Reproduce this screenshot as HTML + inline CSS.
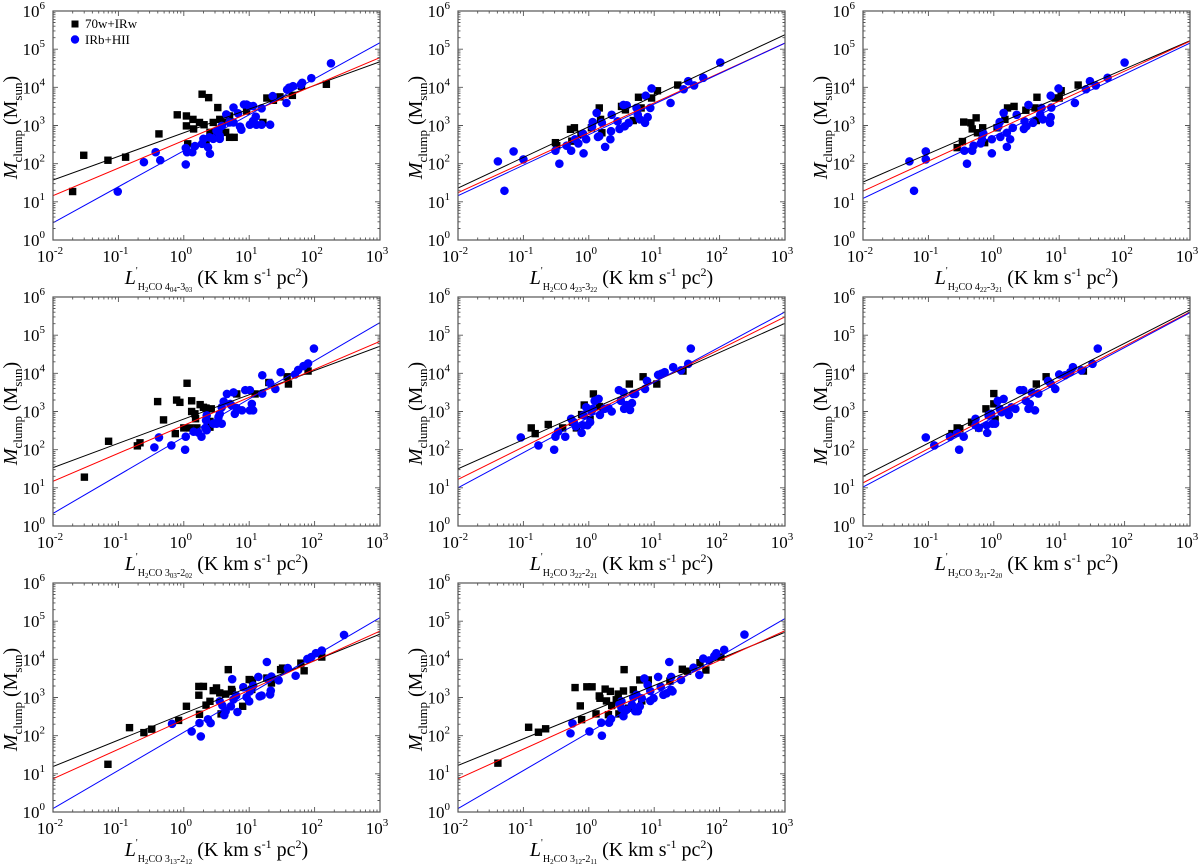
<!DOCTYPE html>
<html><head><meta charset="utf-8"><style>
html,body{margin:0;padding:0;background:#fff;}
svg{display:block;}
svg text, svg tspan{font-family:"Liberation Serif","Times New Roman",serif !important;}
</style></head><body>
<svg id="fig" width="1200" height="866" viewBox="0 0 1200 866" xmlns="http://www.w3.org/2000/svg" font-family="Liberation Serif, serif"></svg>
<script>
// ---- data (log10 values) ----
const p1BlackLogL=[-1.70,-1.53,-1.16,-0.89,-0.38,-0.10,0.04,0.04,0.06,0.14,0.15,0.24,0.28,0.31,0.34,0.38,0.40,0.45,0.52,0.45,0.55,0.59,0.64,0.70,0.70,0.77,0.96,1.27,1.21,1.37,1.47,1.66,1.80,2.18];
const p1BlackLogM=[1.27,2.22,2.09,2.17,2.78,3.28,2.99,3.25,2.52,3.16,2.91,3.08,3.82,3.02,2.52,3.73,2.82,2.69,3.47,3.08,3.16,3.08,2.82,3.25,2.69,2.69,3.38,3.72,3.08,3.66,3.75,3.79,4.03,4.08];
const p1BlueLogL=[-1.01,-0.61,-0.43,-0.36,0.03,0.03,0.05,0.13,0.17,0.28,0.30,0.37,0.40,0.39,0.45,0.50,0.53,0.55,0.55,0.58,0.65,0.70,0.76,0.76,0.83,0.86,0.88,0.92,0.96,1.00,1.01,1.06,1.06,1.10,1.11,1.19,1.19,1.32,1.36,1.57,1.58,1.61,1.67,1.79,1.81,1.95,2.25];
const p1BlueLogM=[1.27,2.04,2.30,2.09,1.98,2.41,2.30,2.30,2.46,2.52,2.65,2.43,2.26,2.69,2.65,2.86,2.86,2.65,2.73,2.99,3.29,3.08,3.47,3.08,3.32,2.97,2.89,3.55,3.55,3.51,3.02,3.12,3.51,3.23,3.02,3.02,3.45,3.02,3.77,3.59,3.94,3.99,4.03,4.07,4.12,4.24,4.63];

const p2BlackLogL=[-0.51,-0.49,-0.28,-0.22,-0.12,0.04,0.16,0.18,0.20,0.50,0.56,0.68,0.76,0.80,0.96,1.05,1.36,-0.26];
const p2BlackLogM=[2.55,2.47,2.90,2.94,2.77,2.94,3.46,3.16,2.81,3.50,3.41,3.13,3.74,3.46,3.72,3.91,4.06,2.59];
const p2BlueLogL=[-1.39,-1.29,-1.15,-1.00,-0.51,-0.45,-0.27,-0.34,-0.16,-0.08,-0.04,-0.09,-0.21,0.05,0.06,0.12,0.14,0.16,0.20,0.25,0.33,0.34,0.35,0.44,0.47,0.53,0.58,0.55,0.61,0.73,0.75,0.78,0.86,0.87,0.90,0.94,0.96,1.25,1.45,1.52,1.61,1.75,2.01];
const p2BlueLogM=[2.06,1.29,2.32,2.11,2.34,2.00,2.34,2.47,2.53,2.27,2.64,2.79,2.64,2.97,3.09,3.33,2.70,2.72,3.07,2.44,2.64,2.85,3.28,3.11,2.91,3.54,3.53,2.98,3.07,3.46,3.28,3.16,3.07,3.78,3.22,3.46,3.97,3.59,3.95,4.16,4.05,4.25,4.65];

const p3BlackLogL=[-0.56,-0.48,-0.46,-0.35,-0.27,-0.33,-0.25,-0.17,-0.14,0.05,0.17,0.21,0.31,0.49,0.63,0.66,0.65,0.94,1.00,1.03,1.29];
const p3BlackLogM=[2.42,2.58,3.09,3.07,3.20,2.91,2.81,2.94,2.55,2.94,3.16,3.46,3.50,3.40,3.46,3.74,3.13,3.72,3.72,3.91,4.06];
const p3BlueLogL=[-1.29,-1.22,-1.04,-1.04,-0.45,-0.41,-0.33,-0.31,-0.20,-0.03,-0.03,-0.16,0.07,0.09,0.15,0.10,0.20,0.20,0.25,0.29,0.35,0.47,0.46,0.53,0.60,0.73,0.71,0.75,0.86,0.87,0.87,0.88,0.99,1.24,1.41,1.47,1.56,1.74,2.00,-0.18,0.50];
const p3BlueLogM=[2.06,1.29,2.32,2.11,2.34,2.00,2.34,2.47,2.53,2.27,2.64,2.79,2.97,3.09,3.33,2.70,2.81,2.44,2.64,2.94,3.28,3.11,2.91,3.54,3.07,3.46,3.28,3.16,3.07,3.78,3.22,3.47,3.97,3.59,3.95,4.16,4.05,4.25,4.65,2.64,2.98];

const p4BlackLogL=[-1.52,-1.15,-0.71,-0.67,-0.40,-0.31,-0.13,-0.11,-0.06,0.00,0.05,0.09,0.12,0.12,0.17,0.18,0.20,0.25,0.30,0.34,0.42,0.40,0.40,0.81,1.09,1.30,1.58,1.60,1.90];
const p4BlackLogM=[1.28,2.22,2.10,2.18,3.26,2.78,2.42,3.30,3.24,2.57,3.74,2.57,3.28,3.00,2.94,2.81,2.57,3.18,3.11,3.09,3.07,2.59,2.74,3.46,3.46,3.76,3.91,3.72,4.06];
const p4BlueLogL=[-0.45,-0.38,-0.19,0.02,0.03,0.15,0.22,0.27,0.33,0.34,0.35,0.45,0.50,0.53,0.55,0.58,0.61,0.66,0.71,0.76,0.78,0.81,0.89,0.94,1.01,1.01,1.04,1.06,1.20,1.20,1.32,1.40,1.48,1.70,1.75,1.83,1.90,1.99,0.73,0.58,0.35];
const p4BlueLogM=[2.06,2.32,2.11,2.00,2.34,2.47,2.45,2.34,2.57,2.77,2.90,2.68,2.68,2.85,2.94,3.11,3.26,3.46,3.20,3.50,2.94,3.09,3.03,3.56,3.56,3.03,3.20,3.03,3.95,3.47,3.74,3.59,4.03,3.97,4.09,4.19,4.26,4.65,3.16,2.68,2.51];

const p5BlackLogL=[-0.88,-0.82,-0.62,-0.40,-0.25,-0.19,-0.11,-0.07,0.02,0.07,0.16,0.22,0.62,0.83,1.04,1.44];
const p5BlackLogM=[2.57,2.42,2.66,2.57,2.72,2.57,2.92,3.17,2.79,3.46,3.13,3.07,3.72,3.91,3.72,4.06];
const p5BlueLogL=[-1.04,-0.77,-0.53,-0.51,-0.47,-0.36,-0.27,-0.23,-0.20,-0.11,-0.09,-0.08,-0.04,-0.02,0.02,0.04,0.06,0.09,0.15,0.17,0.24,0.30,0.35,0.46,0.49,0.53,0.54,0.58,0.63,0.66,0.68,0.71,0.86,0.89,1.06,1.11,1.16,1.29,1.41,1.52,1.56];
const p5BlueLogM=[2.32,2.11,2.00,2.34,2.47,2.34,2.81,2.72,2.61,2.44,2.64,2.90,3.11,2.64,2.72,3.00,3.07,3.28,3.33,2.91,3.07,3.09,3.00,3.56,3.28,3.50,3.07,3.17,3.04,3.22,3.46,3.46,3.59,3.80,3.96,3.99,4.03,4.16,4.08,4.25,4.65];

const p6BlackLogL=[-0.64,-0.56,-0.52,-0.34,-0.23,-0.12,-0.08,0.00,0.00,0.02,0.65,0.80,1.37];
const p6BlackLogM=[2.42,2.57,2.55,2.72,2.57,3.07,2.91,3.47,3.20,2.79,3.72,3.91,4.06];
const p6BlueLogL=[-1.04,-0.91,-0.67,-0.56,-0.53,-0.46,-0.28,-0.28,-0.23,-0.11,-0.10,-0.08,-0.04,-0.02,0.02,0.06,0.09,0.12,0.15,0.20,0.23,0.27,0.33,0.40,0.45,0.49,0.53,0.55,0.58,0.63,0.68,0.83,0.87,0.94,1.00,1.09,1.17,1.21,1.34,1.51,1.59];
const p6BlueLogM=[2.32,2.11,2.34,2.44,2.00,2.34,2.81,2.64,2.57,2.64,2.44,2.90,2.94,2.68,2.68,3.28,3.07,2.98,3.33,3.03,2.91,3.11,3.07,3.56,3.56,3.28,3.07,3.20,3.50,3.03,3.47,3.80,3.73,3.59,3.97,3.95,4.03,4.16,4.08,4.25,4.65];

const p7BlackLogL=[-1.16,-0.83,-0.61,-0.49,-0.08,0.04,0.23,0.23,0.24,0.30,0.34,0.40,0.45,0.50,0.55,0.57,0.64,0.68,0.73,0.74,0.90,1.00,1.05,1.04,1.27,1.34,1.48,1.51,1.79,1.84,2.11];
const p7BlackLogM=[1.25,2.21,2.08,2.17,2.40,2.77,3.06,3.29,2.56,3.29,2.80,2.90,3.18,3.25,3.12,2.57,3.09,3.73,3.21,3.16,2.77,3.47,3.45,3.21,3.51,3.38,3.73,3.77,3.90,3.70,4.06];
const p7BlueLogL=[-0.18,0.12,0.24,0.26,0.37,0.41,0.55,0.59,0.62,0.64,0.72,0.74,0.76,0.80,0.82,0.91,0.96,1.00,1.01,1.06,1.14,1.16,1.19,1.27,1.29,1.32,1.33,1.34,1.45,1.59,1.71,1.89,1.95,2.02,2.11,2.45];
const p7BlueLogM=[2.31,2.11,2.33,1.98,2.43,2.33,2.90,2.79,2.54,2.64,2.77,3.48,2.95,3.05,2.62,3.27,3.01,2.90,3.16,3.31,3.54,3.03,3.05,3.93,3.48,3.08,3.18,3.55,3.45,3.77,3.57,4.01,4.06,4.16,4.23,4.64];

const p8BlackLogL=[-1.39,-0.92,-0.77,-0.66,-0.21,-0.13,-0.11,-0.03,0.05,0.11,0.16,0.17,0.25,0.27,0.33,0.35,0.30,0.42,0.45,0.46,0.53,0.54,0.61,0.68,0.78,0.81,0.91,1.24,1.43,1.51,1.70,1.79,2.02];
const p8BlackLogM=[1.28,2.22,2.09,2.18,3.26,2.78,2.42,3.28,3.28,2.57,3.04,2.98,3.22,2.91,3.16,2.79,2.55,2.94,3.09,2.57,3.17,3.73,2.72,3.20,3.46,2.91,3.46,3.43,3.74,3.69,3.91,3.72,4.06];
const p8BlueLogL=[-0.28,-0.25,0.01,0.19,0.20,0.31,0.34,0.47,0.50,0.53,0.55,0.58,0.66,0.68,0.73,0.75,0.78,0.81,0.85,0.90,0.94,0.94,0.99,1.06,1.10,1.14,1.19,1.23,1.26,1.26,1.28,1.41,1.60,1.69,1.75,1.84,1.92,1.95,2.07,2.38,0.50,0.71];
const p8BlueLogM=[2.06,2.32,2.11,2.34,2.00,2.34,2.44,2.83,2.90,2.51,2.64,2.68,2.81,3.00,3.07,2.64,2.77,2.98,3.50,3.33,3.17,2.91,2.98,3.54,3.28,3.07,3.11,3.93,3.54,3.20,3.16,3.46,3.78,3.59,4.02,3.97,4.09,4.16,4.25,4.65,2.72,2.64];

// fitted lines: log M at L=1e-2 (start) and L=1e3 (end)
const fitBlackStart=[1.57,1.36,1.52,1.53,1.50,1.30,1.19,1.22];
const fitBlackEnd=[4.67,5.38,5.22,4.71,5.31,5.66,4.66,4.71];
const fitRedStart=[1.16,1.24,1.28,1.17,1.22,1.13,0.87,0.87];
const fitRedEnd=[4.78,5.16,5.21,4.84,5.48,5.61,4.74,4.75];
const fitBlueStart=[0.45,1.16,1.09,0.33,1.00,1.02,0.09,0.09];
const fitBlueEnd=[5.17,5.16,5.16,5.33,5.61,5.59,5.09,5.07];

const xTickExps=[-2,-1,0,1,2,3];
const yTickExps=[0,1,2,3,4,5,6];
const transitions=[["4","04","3","03"],["4","23","3","22"],["4","22","3","21"],["3","03","2","02"],["3","22","2","21"],["3","21","2","20"],["3","13","2","12"],["3","12","2","11"]];

const blackL=[p1BlackLogL,p2BlackLogL,p3BlackLogL,p4BlackLogL,p5BlackLogL,p6BlackLogL,p7BlackLogL,p8BlackLogL];
const blackM=[p1BlackLogM,p2BlackLogM,p3BlackLogM,p4BlackLogM,p5BlackLogM,p6BlackLogM,p7BlackLogM,p8BlackLogM];
const blueL=[p1BlueLogL,p2BlueLogL,p3BlueLogL,p4BlueLogL,p5BlueLogL,p6BlueLogL,p7BlueLogL,p8BlueLogL];
const blueM=[p1BlueLogM,p2BlueLogM,p3BlueLogM,p4BlueLogM,p5BlueLogM,p6BlueLogM,p7BlueLogM,p8BlueLogM];

// ---- layout ----
const PX=[53,458,863], PY=[11,297,583], W=327, H=229;
const XMIN=-2, XMAX=3, YMIN=0, YMAX=6;
const SERIF='Liberation Serif, serif';
function sx(p,lx){return PX[p%3]+(lx-XMIN)/(XMAX-XMIN)*W;}
function sy(p,ly){return PY[Math.floor(p/3)]+H-(ly-YMIN)/(YMAX-YMIN)*H;}

const NS="http://www.w3.org/2000/svg";
const svg=document.getElementById('fig');
function mk(tag,attrs,parent){const e=document.createElementNS(NS,tag);for(const k in attrs)e.setAttribute(k,attrs[k]);(parent||svg).appendChild(e);return e;}
// parts: [text, fontSize, dy, italic]
function addSpans(t,parts){
  for(const pt of parts){
    const s=mk('tspan',{'font-size':pt[1],'font-family':SERIF},t);
    if(pt[2])s.setAttribute('dy',pt[2]);
    if(pt[3])s.setAttribute('font-style','italic');
    s.textContent=pt[0];
  }
}
const defs=mk('defs',{});

for(let p=0;p<8;p++){
  const x0=PX[p%3], y0=PY[Math.floor(p/3)];
  const g=mk('g',{});
  
  
  const cp=mk('clipPath',{id:'clip'+p},defs);
  mk('rect',{x:x0,y:y0,width:W,height:H},cp);

  const pts=mk('g',{'clip-path':'url(#clip'+p+')'},g);
  
  
  for(let i=0;i<blackL[p].length;i++){
    const cx=sx(p,blackL[p][i]), cy=sy(p,blackM[p][i]);
    const r=mk('rect',{x:cx-3.7,y:cy-3.7,width:7.4,height:7.4,fill:'#000'},pts);
    
    
  }
  for(let i=0;i<blueL[p].length;i++){
    const c=mk('circle',{cx:sx(p,blueL[p][i]),cy:sy(p,blueM[p][i]),r:4.3,fill:'#0000ff'},pts);
    
    
  }
  const fits=[[fitBlackStart,fitBlackEnd,'#000','fit-line-all'],[fitRedStart,fitRedEnd,'#ff0000','fit-line-combined'],[fitBlueStart,fitBlueEnd,'#0000ff','fit-line-irb-hii']];
  for(const f of fits){
    const l=mk('line',{x1:sx(p,XMIN),y1:sy(p,f[0][p]),x2:sx(p,XMAX),y2:sy(p,f[1][p]),stroke:f[2],'stroke-width':1,'clip-path':'url(#clip'+p+')'},g);
    
    
  }
  const fr=mk('rect',{x:x0,y:y0,width:W,height:H,fill:'none',stroke:'#555','stroke-width':1.2},g);
  
  
  let d='';
  for(let e=XMIN;e<=XMAX;e++){
    const X=sx(p,e);
    d+=`M${X},${y0+H}v-5M${X},${y0}v5`;
    if(e<XMAX)for(let m=2;m<=9;m++){const Xm=sx(p,e+Math.log10(m));d+=`M${Xm},${y0+H}v-2.5M${Xm},${y0}v2.5`;}
  }
  for(let e=YMIN;e<=YMAX;e++){
    const Y=sy(p,e);
    d+=`M${x0},${Y}h5M${x0+W},${Y}h-5`;
    if(e<YMAX)for(let m=2;m<=9;m++){const Ym=sy(p,e+Math.log10(m));d+=`M${x0},${Ym}h2.5M${x0+W},${Ym}h-2.5`;}
  }
  const tk=mk('path',{d:d,stroke:'#555','stroke-width':0.9,fill:'none'},g);
  
  
  for(const e of xTickExps){
    const t=mk('text',{x:sx(p,e)-3,y:y0+H+22,'font-size':17,'text-anchor':'middle',fill:'#000','font-family':SERIF},g);
    
    
    addSpans(t,[['10',17,0],[String(e),11,-8]]);
  }
  for(const e of yTickExps){
    const t=mk('text',{x:x0-8,y:sy(p,e)+6,'font-size':17,'text-anchor':'end',fill:'#000','font-family':SERIF},g);
    
    
    addSpans(t,[['10',17,0],[String(e),11,-8]]);
  }
  const yc=y0+H/2+2;
  const yt=mk('text',{transform:`translate(${x0-36},${yc}) rotate(-90)`,'text-anchor':'middle','font-size':20,fill:'#000','font-family':SERIF},g);
  
  
  addSpans(yt,[['M',20,0,1],['clump',13,5],[' (M',20,-5],['sun',13,5],[')',20,-5]]);
  const tr=transitions[p];
  const xt=mk('text',{x:x0+W/2,y:y0+H+44,'text-anchor':'middle','font-size':20,fill:'#000','font-family':SERIF},g);
  
  
  addSpans(xt,[['L',20,0,1],["'",10,-10],['H',10,16],['2',7,2],['CO '+tr[0],10,-2],[tr[1],7,2],['-'+tr[2],10,-2],[tr[3],7,2],
    [' (K km s',20,-8],['-1',12,-8],[' pc',20,8],['2',12,-8],[')',20,8]]);
}

const lg=mk('g',{});


const ls=mk('rect',{x:71.5,y:20.5,width:7,height:7,fill:'#000'},lg);


const lt1=mk('text',{x:85,y:28,'font-size':13,fill:'#000','font-family':SERIF},lg);


lt1.textContent='70w+IRw';
const lc=mk('circle',{cx:75,cy:39.5,r:4.2,fill:'#0000ff'},lg);


const lt2=mk('text',{x:85,y:44,'font-size':13,fill:'#000','font-family':SERIF},lg);


lt2.textContent='IRb+HII';
</script>
</body></html>
